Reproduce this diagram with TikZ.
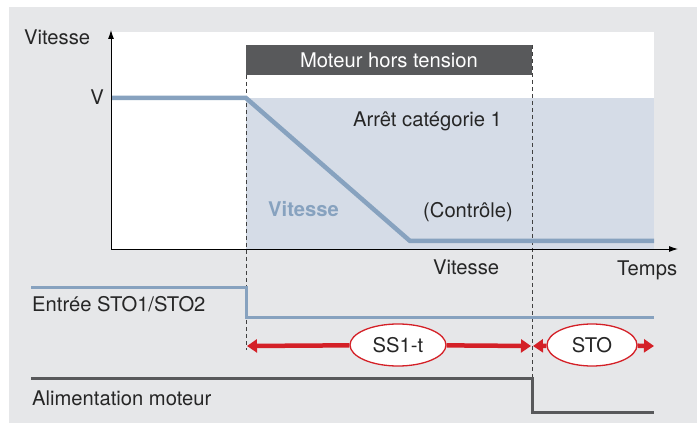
\documentclass[tikz,border=0pt]{standalone}
\usepackage{fontspec}
\setmainfont{TeX Gyre Heros}
\usetikzlibrary{arrows.meta,shapes.geometric}
\definecolor{bggray}{HTML}{E6E7E9}
\definecolor{zone}{HTML}{D5DCE7}
\definecolor{hdrgray}{HTML}{58595B}
\definecolor{speedblue}{HTML}{87A2BF}
\definecolor{stopred}{HTML}{D42027}

\begin{document}
\begin{tikzpicture}[x=1pt,y=-1pt,
    lbl/.style={font=\fontsize{20.2}{23}\selectfont,inner sep=0pt,text=black!85},
    oval/.style={ellipse,draw=stopred,line width=1.3pt,fill=white,inner sep=0pt,
      font=\fontsize{20.2}{23}\selectfont,text=black!85},
    redline/.style={stopred,line width=4.5pt},
    guide/.style={black!75,line width=0.9pt,dash pattern=on 4pt off 3pt}]
    \useasboundingbox (0,0) rectangle (697,425);
    \fill[bggray] (9,7) rectangle (697,423);
    \fill[white] (111,32) rectangle (654,249);
    \fill[zone] (246,98) rectangle (654,249);
    \fill[hdrgray] (246,45) rectangle (532,75);
    \node[lbl,text=white,anchor=base] (hdr) at (389,68) {Moteur hors tension};
    \draw[guide] (246,75) -- (246,350);
    \draw[guide] (532,45) -- (532,378);
    \draw[speedblue,line width=4.5pt] (111,98) -- (246,98) -- (410,241) -- (654,241);
    \draw[black,line width=0.9pt,-{Latex[length=9pt,width=6pt]}] (111,249) -- (111,30);
    \draw[black,line width=0.9pt,-{Latex[length=9pt,width=6pt]}] (111,249) -- (678,249);
    \node[lbl,anchor=base west] (yaxis) at (24,45) {Vitesse};
    \node[lbl,anchor=base east] (vmax) at (104,105) {V};
    \node[lbl,anchor=base west] (cat) at (353,127) {Arrêt catégorie 1};
    \node[lbl,anchor=base west,text=speedblue,font=\fontsize{20.2}{23}\selectfont\bfseries] (vit) at (268,217) {Vitesse};
    \node[lbl,anchor=base west] (ctrl) at (423,218) {(Contrôle)};
    \node[lbl,anchor=base west] (vit2) at (433,275) {Vitesse};
    \node[lbl,anchor=base west] (xaxis) at (617,276) {Temps};
    \draw[speedblue,line width=3pt] (31,287) -- (246,287) -- (246,317) -- (654,317);
    \node[lbl,anchor=base west] (sto12) at (32,312) {Entrée STO1/STO2};
    \draw[hdrgray,line width=3pt] (31,378) -- (532,378) -- (532,412) -- (654,412);
    \node[lbl,anchor=base west] (alim) at (32,405) {Alimentation moteur};
    \coordinate (ss1a) at (247,346);
    \coordinate (ss1b) at (531,346);
    \coordinate (stoa) at (533,346);
    \coordinate (stob) at (654,346);
    \node[oval,minimum width=96pt,minimum height=42pt] (ss1) at (398,345) {SS1-t};
    \node[oval,minimum width=90pt,minimum height=42pt] (sto) at (592,345) {STO};
    \draw[redline,{Triangle[length=10pt,width=13pt]}-] (ss1a) -- (ss1);
    \draw[redline,-{Triangle[length=10pt,width=13pt]}] (ss1) -- (ss1b);
    \draw[redline,{Triangle[length=10pt,width=13pt]}-] (stoa) -- (sto);
    \draw[redline,-{Triangle[length=10pt,width=13pt]}] (sto) -- (stob);
\end{tikzpicture}
\end{document}
